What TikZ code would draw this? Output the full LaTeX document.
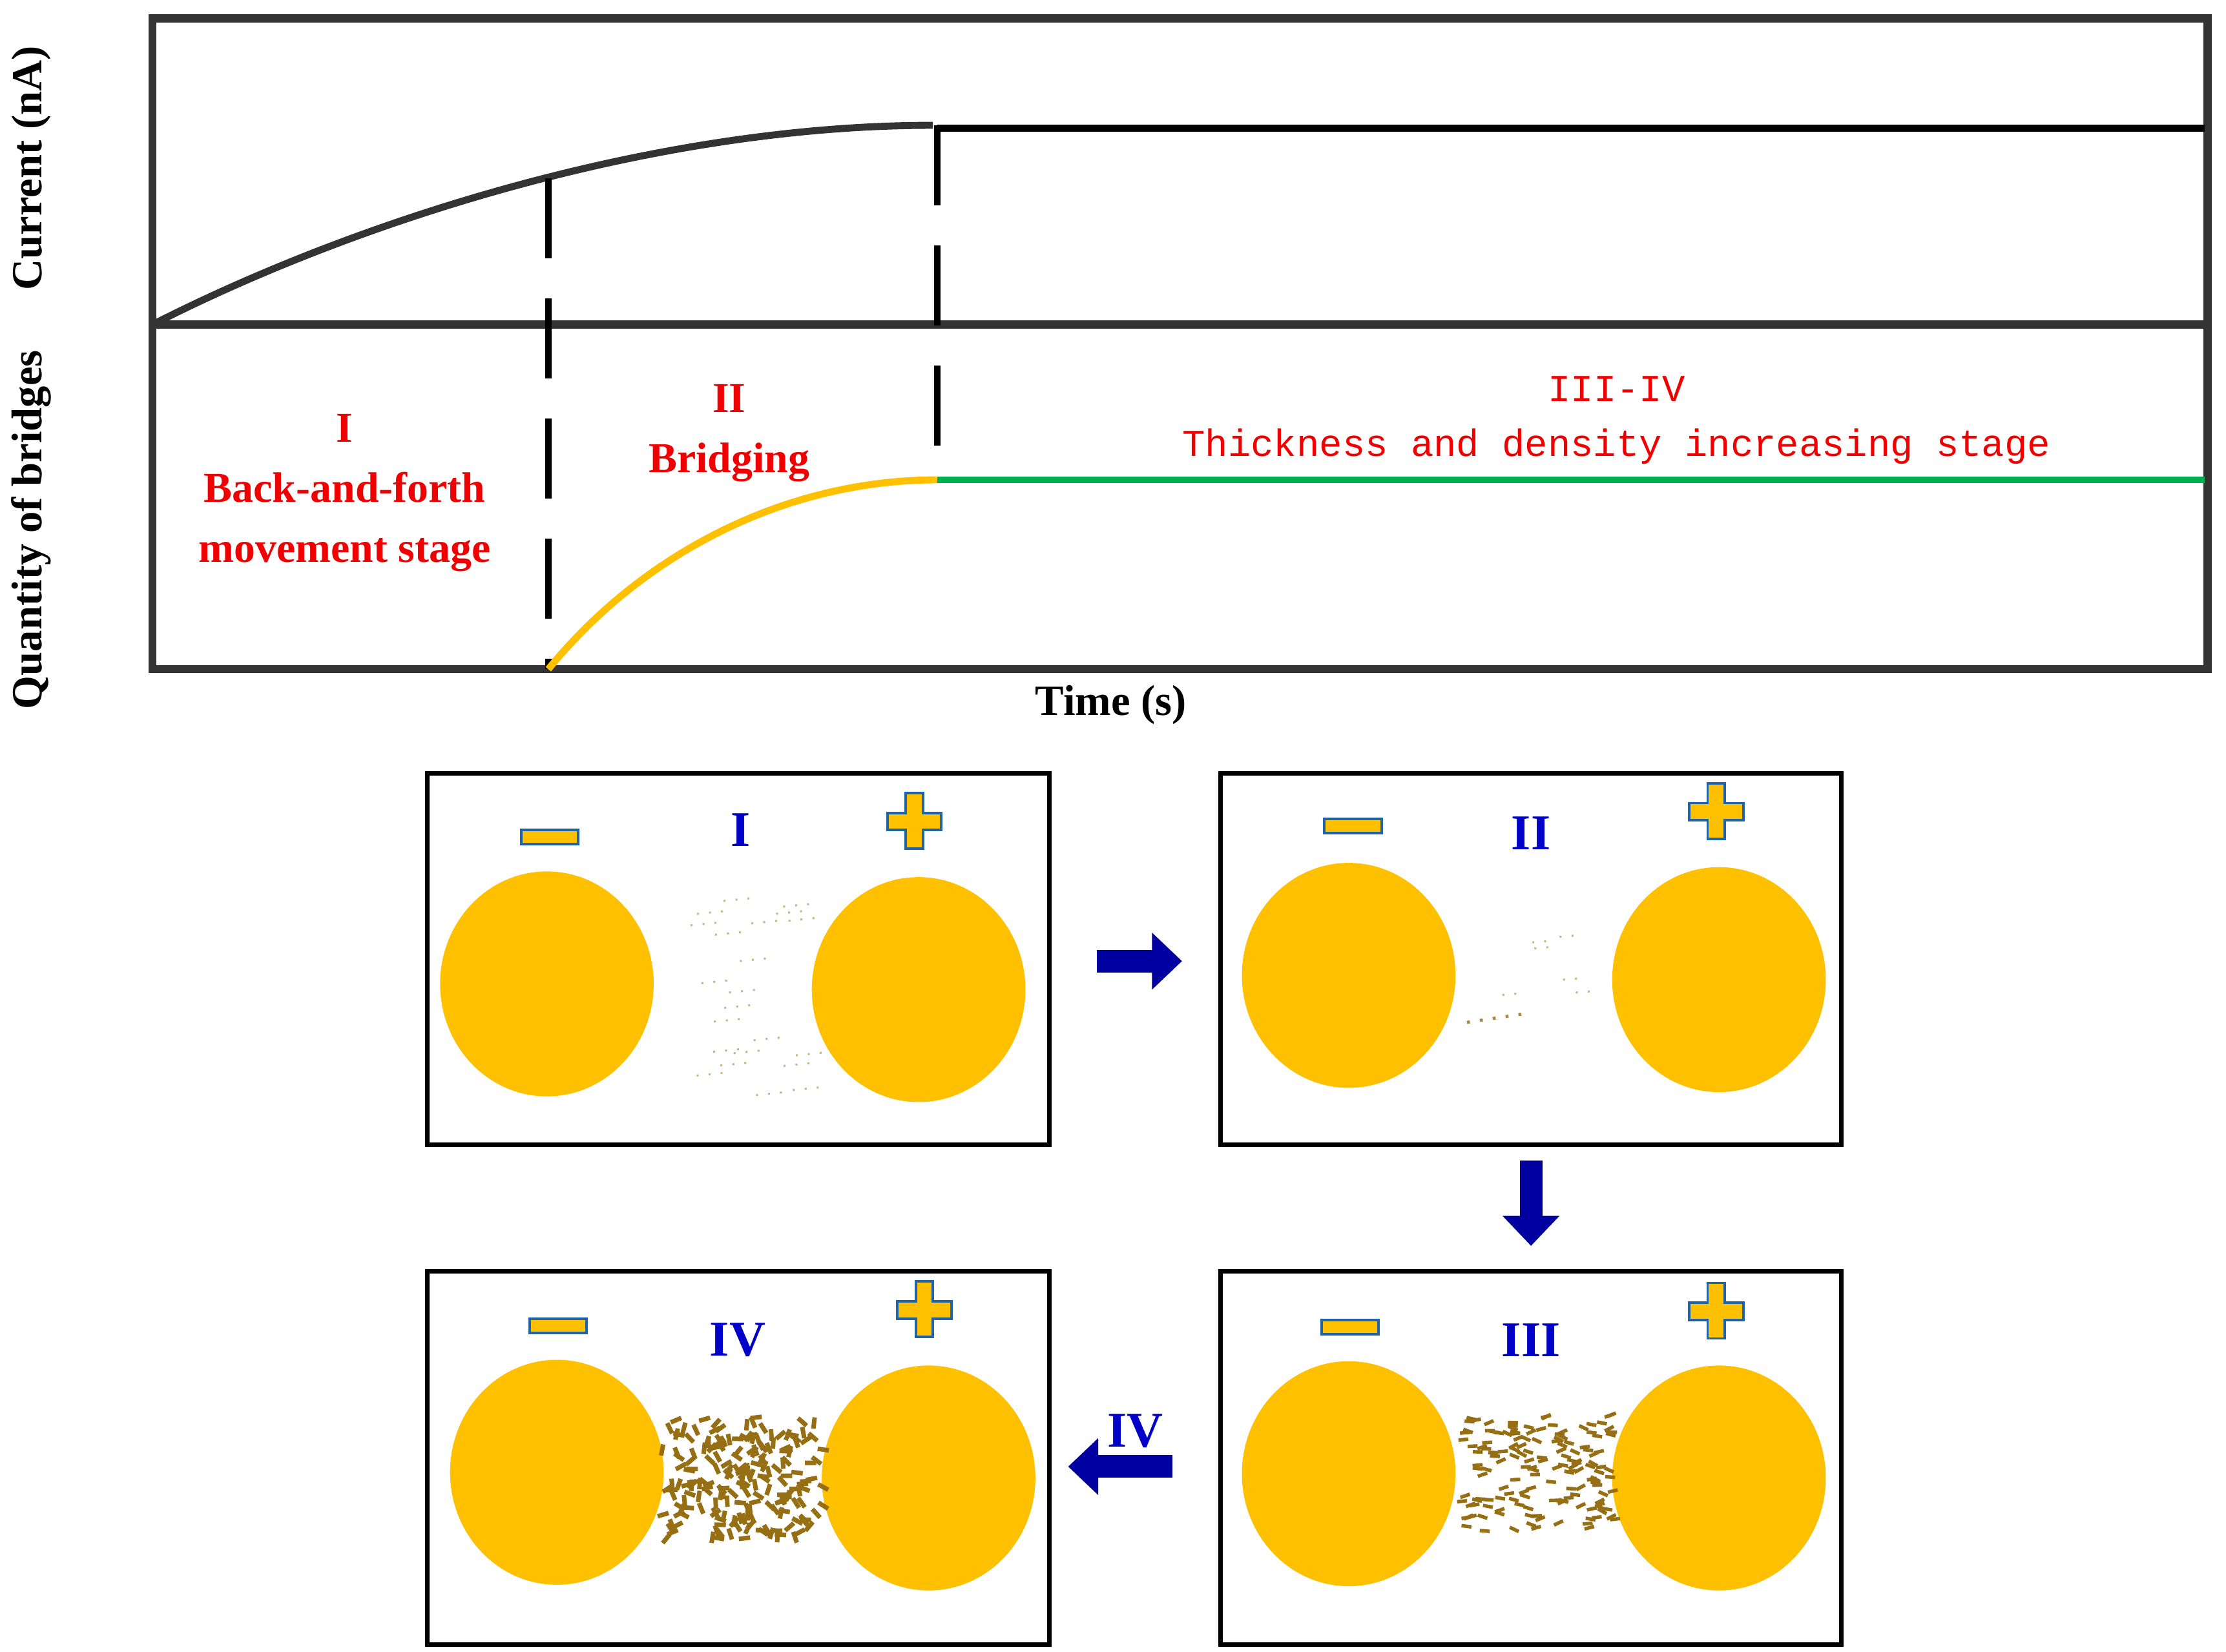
\documentclass[tikz,border=0pt]{standalone}
\usepackage{fontspec}
\setmainfont{Liberation Serif}
\newfontfamily\monof{Liberation Mono}
\usetikzlibrary{arrows.meta}
\definecolor{gold}{RGB}{255,192,0}
\definecolor{rd}{RGB}{240,0,0}
\definecolor{bl}{RGB}{0,0,200}
\definecolor{grn}{RGB}{0,176,80}
\definecolor{brn}{RGB}{150,110,20}
\definecolor{edge}{RGB}{30,100,170}
\tikzset{
 red lbl/.style={text=rd,font=\bfseries\fontsize{8.5pt}{10pt}\selectfont,align=center},
 blue lbl/.style={text=bl,font=\bfseries\fontsize{10pt}{12pt}\selectfont},
 axis lbl/.style={font=\bfseries\fontsize{8.6pt}{10pt}\selectfont},
 panel/.style={draw=black,line width=0.9pt},
 ball/.style={fill=gold},
 sign/.style={fill=gold,draw=edge,line width=0.5pt},
 fat/.style={line width=4.5pt,-{Triangle[length=6pt,width=11pt]},color=bl!80!black},
 bit/.style={brn,line width=0.8pt}
}
\begin{document}
\begin{tikzpicture}[x=0.01cm,y=-0.01cm]
\useasboundingbox (0,0) rectangle (1563,1160);
% plot
\draw[line width=1.6pt,black!80] (107,13) rectangle (1550,470);
\draw[line width=1.6pt,black!80] (107,228) -- (1550,228);
\draw[line width=1.4pt,black!80] (107,228) .. controls (250,155) and (460,88) .. (655,88);
\draw[line width=1.4pt,black] (658,90) -- (1548,90);
\draw[line width=1.3pt,dash pattern=on 16pt off 8pt] (385,125) -- (385,470);
\draw[line width=1.3pt,dash pattern=on 16pt off 8pt] (658,88) -- (658,337);
\draw[gold,line width=1.4pt] (385,470) .. controls (450,390) and (550,337) .. (658,337);
\draw[grn,line width=1.4pt] (658,337) -- (1548,337);
\node[axis lbl,rotate=90] (cur) at (22,118) {Current (nA)};
\node[axis lbl,rotate=90] (qty) at (22,372) {Quantity of bridges};
\node[axis lbl] (time) at (780,495) {Time (s)};
\node[red lbl] (s1) at (242,346) {I\\[2pt]Back-and-forth\\[2pt]movement stage};
\node[red lbl] (s2) at (512,304) {II\\[2pt]Bridging};
\node[text=rd,align=center,font=\monof\fontsize{7.6pt}{11pt}\selectfont] (s3) at (1135,295) {III-IV\\Thickness and density increasing stage};
% panels
\draw[panel] (300,543) rectangle (737,804);
\draw[panel] (857,543) rectangle (1293,804);
\draw[panel] (857,893) rectangle (1293,1155);
\draw[panel] (300,893) rectangle (737,1155);
\coordinate (p1e) at (770,675); \coordinate (p2w) at (830,675);
\coordinate (p2s) at (1075,815); \coordinate (p3n) at (1075,875);
\coordinate (p3w) at (823,1030); \coordinate (p4e) at (750,1030);
% balls
\foreach \x/\y in {384/691,645/695,947/685,1207/688,947/1035,1207/1038,391/1034,652/1038}
  \fill[ball] (\x,\y) ellipse (75 and 79);
% signs
\newcommand{\mysign}[2]{\draw[sign] (#1-20,#2-5) rectangle (#1+20,#2+5);}
\newcommand{\myplus}[2]{\draw[sign] (#1-6,#2-20) -- (#1+6,#2-20) -- (#1+6,#2-6) -- (#1+19,#2-6) -- (#1+19,#2+6) -- (#1+6,#2+6) -- (#1+6,#2+19) -- (#1-6,#2+19) -- (#1-6,#2+6) -- (#1-19,#2+6) -- (#1-19,#2-6) -- (#1-6,#2-6) -- cycle;}
\mysign{386}{588}\myplus{642}{577}
\mysign{950}{580}\myplus{1205}{570}
\mysign{948}{932}\myplus{1205}{921}
\mysign{392}{931}\myplus{649}{920}
\node[blue lbl] (l1) at (520,583) {I};
\node[blue lbl] (l2) at (1075,585) {II};
\node[blue lbl] (l3) at (1075,941) {III};
\node[blue lbl] (l4) at (518,941) {IV};
% arrows
\draw[fat] (p1e) -- (p2w);
\draw[fat] (p2s) -- (p3n);
\draw[fat] (p3w) -- (p4e);
\node[blue lbl] (la) at (797,1005) {IV};
% particles
\pgfmathsetseed{7}
\foreach \i in {1,...,22}{
  \pgfmathsetmacro\px{480+80*rnd}\pgfmathsetmacro\py{615+160*rnd}
  \draw[brn!50,line width=0.4pt,dotted] (\px,\py) -- ++(20,-2);}
\foreach \i in {1,...,6}{
  \pgfmathsetmacro\px{1040+85*rnd}\pgfmathsetmacro\py{655+45*rnd}
  \draw[brn!50,line width=0.4pt,dotted] (\px,\py) -- ++(12,-1);}
\draw[brn!80,line width=0.6pt,dotted] (1030,718) -- (1070,712);
\foreach \i in {1,...,150}{
  \pgfmathsetmacro\px{1022+110*rnd}\pgfmathsetmacro\py{995+80*rnd}\pgfmathsetmacro\a{-30+60*rnd}
  \draw[bit,line width=0.7pt] (\px,\py) -- ++(\a:7);}
\foreach \i in {1,...,200}{
  \pgfmathsetmacro\px{465+110*rnd}\pgfmathsetmacro\py{995+85*rnd}\pgfmathsetmacro\a{180*rnd}
  \draw[bit,line width=0.9pt] (\px,\py) -- ++(\a:8);}
\end{tikzpicture}
\end{document}
